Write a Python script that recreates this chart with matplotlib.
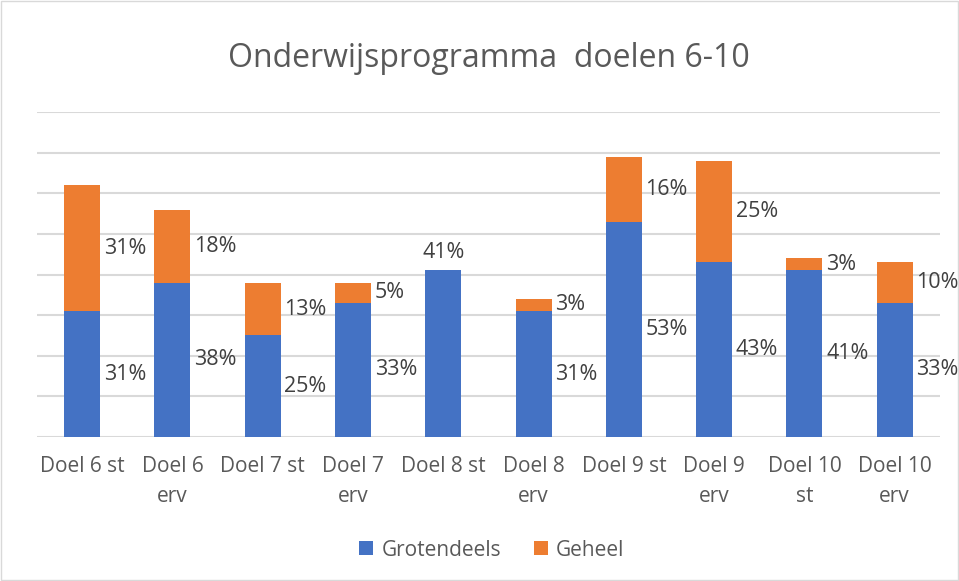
import matplotlib.pyplot as plt
import numpy as np
from matplotlib.patches import Rectangle

plt.rcParams['font.family'] = ['Open Sans', 'DejaVu Sans']

categories = ['Doel 6 st', 'Doel 6\nerv', 'Doel 7 st', 'Doel 7\nerv', 'Doel 8 st',
              'Doel 8\nerv', 'Doel 9 st', 'Doel 9\nerv', 'Doel 10\nst', 'Doel 10\nerv']
grotendeels = [31, 38, 25, 33, 41, 31, 53, 43, 41, 33]
geheel = [31, 18, 13, 5, 0, 3, 16, 25, 3, 10]

blue = '#4472C4'
orange = '#ED7D31'
grid_col = '#D9D9D9'
txt_col = '#595959'
lab_col = '#404040'

fig = plt.figure(figsize=(9.59, 5.81), dpi=100)
ax = fig.add_axes([0.0386, 0.2478, 0.9414, 0.5594])

x = np.arange(len(categories))
w = 0.4
ax.bar(x, grotendeels, w, color=blue, label='Grotendeels', zorder=3)
ax.bar(x, geheel, w, bottom=grotendeels, color=orange, label='Geheel', zorder=3)

# data labels: right of the bar, middle of each segment
for i in range(len(categories)):
    g = grotendeels[i]
    h = geheel[i]
    if h == 0:
        # no top part: label sits above the bar
        ax.text(x[i], g + 4.3, f'{g}%', ha='center', va='center',
                fontsize=15.5, color=lab_col, zorder=4)
    else:
        ax.text(x[i] + w / 2 + 0.04, g / 2, f'{g}%', ha='left', va='center',
                fontsize=15.5, color=lab_col, zorder=4)
        ax.text(x[i] + w / 2 + 0.04, g + h / 2, f'{h}%', ha='left', va='center',
                fontsize=15.5, color=lab_col, zorder=4)

ax.set_xlim(-0.5, len(categories) - 0.5)
ax.set_ylim(0, 80)
ax.set_yticks(np.arange(0, 81, 10))
ax.yaxis.grid(True, color=grid_col, linewidth=1.5, zorder=0)
ax.tick_params(axis='y', left=False, labelleft=False)
ax.tick_params(axis='x', length=0, pad=14, labelsize=15, labelcolor=txt_col)
ax.set_xticks(x)
ax.set_xticklabels(categories, linespacing=1.55)
for s in ax.spines.values():
    s.set_visible(False)

fig.suptitle('Onderwijsprogramma  doelen 6-10', x=0.51, y=0.9, va='center',
             fontsize=23, color=txt_col)

leg = fig.legend(loc='center', bbox_to_anchor=(0.513, 0.053), ncol=2, frameon=False,
                 fontsize=15, handlelength=0.65, handleheight=0.65, columnspacing=1.6,
                 handletextpad=0.4)
for t in leg.get_texts():
    t.set_color(txt_col)

# light border round the chart area
fig.patches.append(Rectangle((0.001, 0.001), 0.998, 0.998, transform=fig.transFigure,
                             fill=False, edgecolor='#D9D9D9', linewidth=1))

fig.savefig('out.png', dpi=100)
